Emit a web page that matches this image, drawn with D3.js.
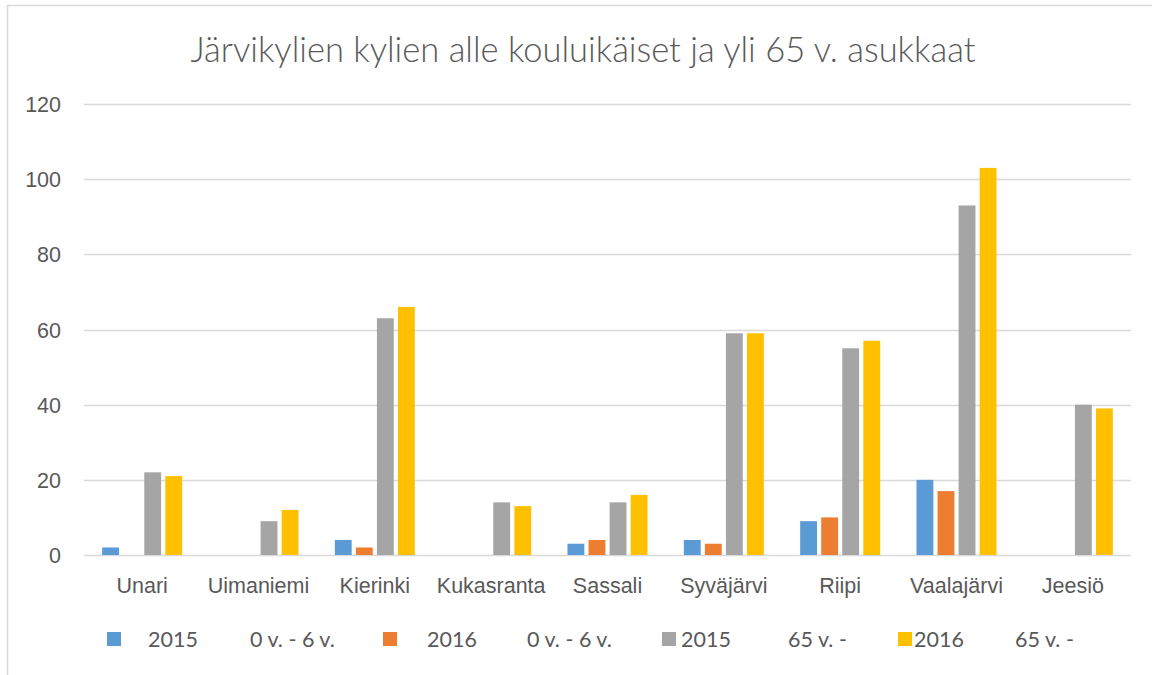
<!DOCTYPE html>
<html>
<head>
<meta charset="utf-8">
<script src="https://cdn.jsdelivr.net/npm/d3@7"></script>
<style>
  body { margin: 0; background: #fff; }
  svg { display: block; font-family: Lato, "Open Sans", sans-serif; }
</style>
</head>
<body>
<svg id="chart" width="1152" height="675"></svg>
<script>
// villages and the four series (0-6 yr and 65+ for 2015/2016)
const villages = ["Unari", "Uimaniemi", "Kierinki", "Kukasranta", "Sassali", "Syväjärvi", "Riipi", "Vaalajärvi", "Jeesiö"];
const kids2015 = [2, 0, 4, 0, 3, 4, 9, 20, 0];
const kids2016 = [0, 0, 2, 0, 4, 3, 10, 17, 0];
const old2015 = [22, 9, 63, 14, 14, 59, 55, 93, 40];
const old2016 = [21, 12, 66, 13, 16, 59, 57, 103, 39];
const seriesYears = ["2015", "2016", "2015", "2016"];
const seriesGroups = ["0 v. - 6 v.", "0 v. - 6 v.", "65 v. -", "65 v. -"];
const seriesColors = ["#5b9bd5", "#ed7d31", "#a5a5a5", "#ffc000"];
const yTicks = [0, 20, 40, 60, 80, 100, 120];
const titleText = "Järvikylien kylien alle kouluikäiset ja yli 65 v. asukkaat";

const series = [kids2015, kids2016, old2015, old2016];

const svg = d3.select("#chart");
const textCol = "#595959";
const fs = 21.5;

// chart frame (only top and left edges visible in the picture)
svg.append("path")
  .attr("d", "M7.5,675 V5.5 H1152")
  .attr("fill", "none")
  .attr("stroke", "#d9d9d9")
  .attr("stroke-width", 1.5);

svg.append("text")
  .attr("x", 583).attr("y", 62)
  .attr("text-anchor", "middle")
  .attr("font-size", 34.5)
  .attr("font-weight", 300)
  .attr("fill", textCol)
  .text(titleText);

const x = d3.scaleBand().domain(villages).range([84, 1131]);
const y = d3.scaleLinear().domain([0, 120]).range([555, 104]);

// gridlines
svg.append("g").selectAll("line").data(yTicks).join("line")
  .attr("x1", 84).attr("x2", 1131)
  .attr("y1", d => Math.round(y(d)) + 0.5).attr("y2", d => Math.round(y(d)) + 0.5)
  .attr("stroke", "#d9d9d9").attr("stroke-width", 1.5);

// y axis labels
const yAxis = svg.append("g").attr("transform", "translate(61,0)")
  .call(d3.axisLeft(y).tickValues(yTicks).tickSize(0).tickPadding(0));
yAxis.select(".domain").remove();
yAxis.selectAll("text").attr("font-size", fs).attr("fill", textCol).attr("font-family", null).attr("dy", "0.35em");

// x axis labels
const xAxis = svg.append("g").attr("transform", "translate(0,593)")
  .call(d3.axisBottom(x).tickSize(0).tickPadding(0));
xAxis.select(".domain").remove();
xAxis.selectAll("text").attr("font-size", fs).attr("fill", textCol).attr("font-family", null).attr("dy", 0);

// bars
const inner = d3.scaleBand().domain(d3.range(4)).range([0, 80]).paddingInner(0.2);
const barOffset = (x.bandwidth() - 80) / 2;
series.forEach((vals, si) => {
  svg.append("g").selectAll("rect").data(vals).join("rect")
    .attr("x", (d, i) => x(villages[i]) + barOffset + inner(si))
    .attr("y", d => y(d))
    .attr("width", inner.bandwidth())
    .attr("height", d => y(0) - y(d))
    .attr("fill", seriesColors[si]);
});

// legend
const legX = [107, 383, 662, 898];
const legYearX = [148, 427, 681, 914];
const legGroupX = [250, 527, 788, 1015];
const lg = svg.append("g");
seriesColors.forEach((c, i) => {
  lg.append("rect").attr("x", legX[i]).attr("y", 632).attr("width", 14).attr("height", 14).attr("fill", c);
  lg.append("text").attr("x", legYearX[i]).attr("y", 647).attr("font-size", fs).attr("fill", textCol).text(seriesYears[i]);
  lg.append("text").attr("x", legGroupX[i]).attr("y", 647).attr("font-size", fs).attr("fill", textCol).text(seriesGroups[i]);
});
</script>
</body>
</html>
